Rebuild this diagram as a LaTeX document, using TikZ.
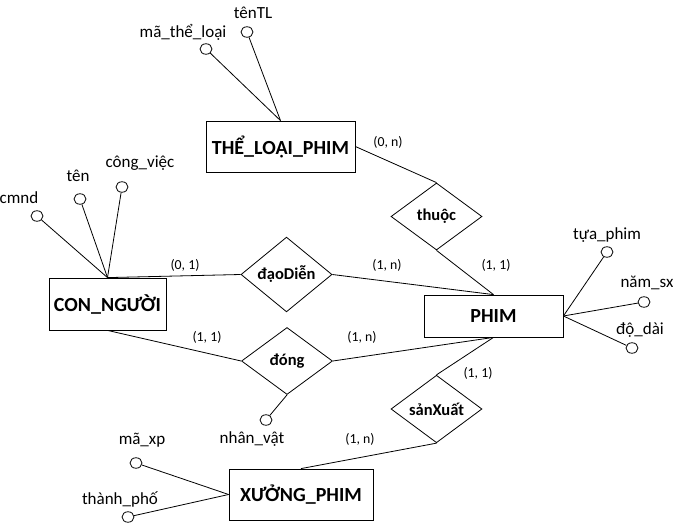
\documentclass[tikz,border=0pt]{standalone}
\usepackage{fontspec}
\setmainfont{Carlito}
\usetikzlibrary{shapes.geometric}
\tikzset{
  entity/.style={draw, line width=0.8pt, rectangle, inner sep=0pt, font=\fontsize{20}{22}\selectfont\bfseries},
  rel/.style={draw, line width=0.8pt, diamond, inner sep=0pt, minimum width=91pt, minimum height=67pt, font=\fontsize{16.5}{19}\selectfont\bfseries},
  attr/.style={draw, line width=0.8pt, ellipse, inner sep=0pt, minimum width=12pt, minimum height=10.5pt},
  lbl/.style={inner sep=0pt, font=\fontsize{17}{19}\selectfont},
  card/.style={inner sep=0pt, font=\fontsize{13.8}{15}\selectfont},
  conn/.style={line width=0.8pt}
}
\begin{document}
\begin{tikzpicture}[x=1pt,y=-1pt]
\useasboundingbox (0,0) rectangle (673,524);
% entities
\node[entity, minimum width=149pt, minimum height=51pt] (tlp) at (280.5,146.5) {THỂ\_LOẠI\_PHIM};
\node[entity, minimum width=117pt, minimum height=52pt] (cn) at (107.5,304) {CON\_NGƯỜI};
\node[entity, minimum width=139pt, minimum height=42pt] (phim) at (493.5,316) {PHIM};
\node[entity, minimum width=144pt, minimum height=51pt] (xp) at (301,494.5) {XƯỞNG\_PHIM};
% relationships
\node[rel] (thuoc) at (436.5,216.5) {thuộc};
\node[rel] (dao) at (286.5,274.5) {đạoDiễn};
\node[rel] (dong) at (287,361) {đóng};
\node[rel] (sx) at (436.5,409) {sảnXuất};
% attribute circles
\node[attr] (a1) at (206,49) {};
\node[attr] (a2) at (247,32) {};
\node[attr] (a3) at (37,216) {};
\node[attr] (a4) at (80,199) {};
\node[attr] (a5) at (122,187) {};
\node[attr] (a6) at (607,252) {};
\node[attr] (a7) at (644,302) {};
\node[attr] (a8) at (632,348) {};
\node[attr] (a9) at (266,420) {};
\node[attr] (a10) at (136,463) {};
\node[attr] (a11) at (128,517) {};
% attribute labels
\node[lbl] (t1) at (183,32) {mã\_thể\_loại};
\node[lbl] (t2) at (253,13) {tênTL};
\node[lbl] (t3) at (19,198) {cmnd};
\node[lbl] (t4) at (78,176) {tên};
\node[lbl] (t5) at (140,163) {công\_việc};
\node[lbl] (t6) at (607,235) {tựa\_phim};
\node[lbl] (t7) at (647,283) {năm\_sx};
\node[lbl] (t8) at (640,330) {độ\_dài};
\node[lbl] (t9) at (252,439) {nhân\_vật};
\node[lbl] (t10) at (142,440) {mã\_xp};
\node[lbl] (t11) at (120,499) {thành\_phố};
% cardinalities
\node[card] (c1) at (388,142) {(0, n)};
\node[card] (c2) at (496,265) {(1, 1)};
\node[card] (c3) at (185,265) {(0, 1)};
\node[card] (c4) at (387,265) {(1, n)};
\node[card] (c5) at (207,337) {(1, 1)};
\node[card] (c6) at (362,337) {(1, n)};
\node[card] (c7) at (478,373) {(1, 1)};
\node[card] (c8) at (360,439) {(1, n)};
% connectors
\draw[conn] (tlp.east) -- (thuoc.north);
\draw[conn] (thuoc.south) -- (phim.north);
\draw[conn] (dao.west) -- (cn.north);
\draw[conn] (dao.east) -- (phim.north);
\draw[conn] (dong.west) -- (cn.south);
\draw[conn] (dong.east) -- (phim.south);
\draw[conn] (dong.south) -- (a9);
\draw[conn] (sx.north) -- (phim.south);
\draw[conn] (sx.south) -- (xp.north);
\draw[conn] (a1) -- (tlp.north);
\draw[conn] (a2) -- (tlp.north);
\draw[conn] (a3) -- (cn.north);
\draw[conn] (a4) -- (cn.north);
\draw[conn] (a5) -- (cn.north);
\draw[conn] (a6) -- (phim.east);
\draw[conn] (a7) -- (phim.east);
\draw[conn] (a8) -- (phim.east);
\draw[conn] (a10) -- (xp.west);
\draw[conn] (a11) -- (xp.west);
\end{tikzpicture}
\end{document}
